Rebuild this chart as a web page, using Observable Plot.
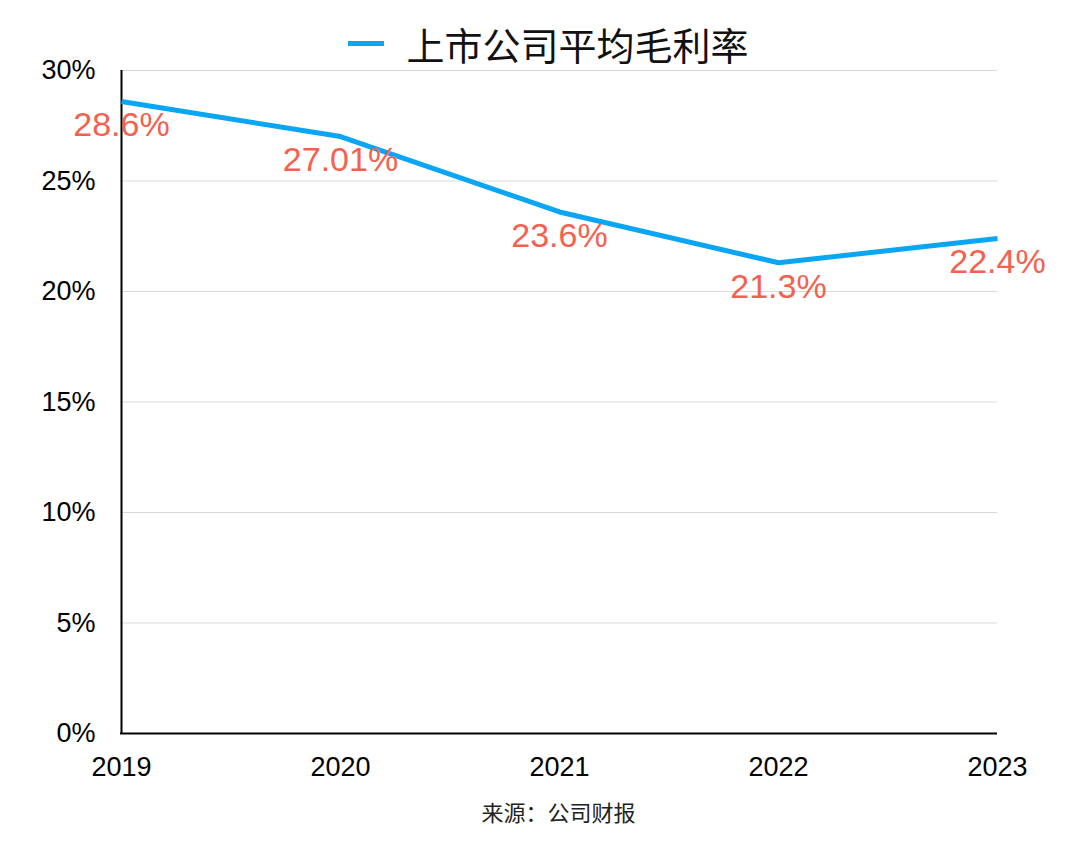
<!DOCTYPE html>
<html>
<head>
<meta charset="utf-8">
<script src="https://cdn.jsdelivr.net/npm/d3@7"></script>
<script src="https://cdn.jsdelivr.net/npm/@observablehq/plot@0.6"></script>
<style>
  body { margin: 0; background: #fff; font-family: "Liberation Sans", "Noto Sans CJK SC", sans-serif; position: relative; }
  #title { position: absolute; top: 0; left: 0; width: 1080px; height: 86px; padding-left: 17px; box-sizing: border-box; display: flex; align-items: center; justify-content: center; font-size: 38px; color: #111; font-family: "Noto Sans CJK SC", sans-serif; }
  #title .sw { display: inline-block; width: 36px; height: 5px; background: #0BA5F5; margin-right: 22px; }
  #spacer { height: 46px; }
  #source { height: 42px; line-height: 42px; padding-left: 37px; box-sizing: border-box; text-align: center; font-size: 22px; color: #222; font-family: "Noto Sans CJK SC", sans-serif; }
  svg { display: block; }
</style>
</head>
<body>
<div id="title"><span class="sw"></span><span>上市公司平均毛利率</span></div>
<div id="spacer"></div>
<div id="chart"></div>
<div id="source">来源：公司财报</div>
<script>
const years = ["2019", "2020", "2021", "2022", "2023"];
const margins = [0.286, 0.2701, 0.236, 0.213, 0.224];
const labels = ["28.6%", "27.01%", "23.6%", "21.3%", "22.4%"];
const yTicks = [0, 0.05, 0.10, 0.15, 0.20, 0.25, 0.30];

const data = years.map((y, i) => ({year: y, value: margins[i], label: labels[i]}));

const chart = Plot.plot({
  width: 1080,
  height: 744,
  marginTop: 24,
  marginLeft: 120,
  marginRight: 83,
  marginBottom: 57,
  style: {fontFamily: "'Liberation Sans', 'Noto Sans CJK SC', sans-serif", fontSize: "27px", color: "#000", background: "#fff", overflow: "visible"},
  x: {type: "point", domain: years, padding: 0},
  y: {domain: [0, 0.30]},
  marks: [
    Plot.gridY(yTicks, {stroke: "#d9d9d9", strokeOpacity: 1, strokeWidth: 1}),
    Plot.axisY(yTicks, {tickSize: 0, tickPadding: 25, tickFormat: d3.format(".0%"), fontSize: 27, fill: "#000", label: null}),
    Plot.axisX(years, {tickSize: 0, tickPadding: 23, fontSize: 27, fill: "#000", label: null}),
    Plot.ruleY([0], {stroke: "#000", strokeWidth: 2}),
    Plot.ruleX([years[0]], {stroke: "#000", strokeWidth: 2}),
    Plot.line(data, {x: "year", y: "value", stroke: "#0BA5F5", strokeWidth: 5, strokeLinejoin: "miter", strokeLinecap: "butt"}),
    Plot.text(data, {x: "year", y: "value", text: "label", dy: 24, fill: "#F5614E", fontSize: 34})
  ]
});
document.getElementById("chart").appendChild(chart);
</script>
</body>
</html>
